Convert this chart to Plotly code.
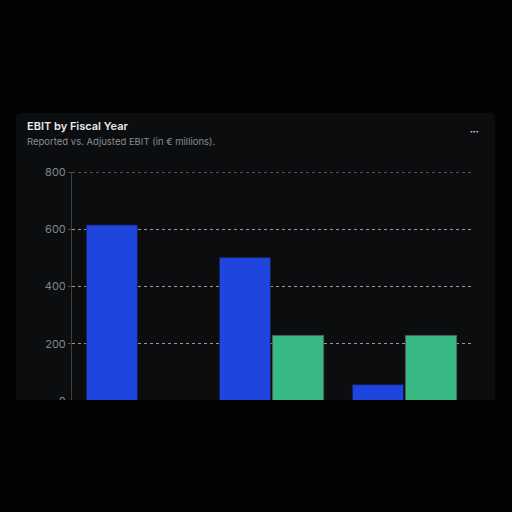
import plotly.graph_objects as go

# ---- data ----
fiscal_years = ["FY2022", "FY2023", "FY2024"]
reported_ebit = [615, 501, 57]
adjusted_ebit = [None, 229, 229]
y_ticks = [0, 200, 400, 600, 800]
y_max = 800

# ---- layout geometry (pixels) ----
W = H = 512
L, R, T, B = 72, 471, 172, 401


def px_x(p):
    return (p - L) / (R - L)


def px_y(p):
    return (B - p) / (B - T)


GRID = "rgba(185,190,195,0.8)"

fig = go.Figure()
fig.add_trace(go.Bar(
    x=fiscal_years, y=reported_ebit, name="Reported EBIT",
    marker=dict(color="#1f45df", line=dict(color="rgba(20,30,80,0.8)", width=1)),
))
fig.add_trace(go.Bar(
    x=fiscal_years, y=adjusted_ebit, name="Adjusted EBIT",
    marker=dict(color="#38b983", line=dict(color="rgba(90,95,100,0.9)", width=1)),
))

# card with rounded corners
x0, x1, y0, y1, r = 16, 495, 113, 420, 5
path = (
    f"M {px_x(x0 + r)} {px_y(y0)} L {px_x(x1 - r)} {px_y(y0)} "
    f"Q {px_x(x1)} {px_y(y0)} {px_x(x1)} {px_y(y0 + r)} "
    f"L {px_x(x1)} {px_y(y1)} L {px_x(x0)} {px_y(y1)} "
    f"L {px_x(x0)} {px_y(y0 + r)} Q {px_x(x0)} {px_y(y0)} {px_x(x0 + r)} {px_y(y0)} Z"
)
shapes = [
    dict(type="path", xref="paper", yref="paper", path=path,
         fillcolor="#0b0d0f", line=dict(width=0), layer="below"),
    # top gridline (plotly drops gridlines at the range edge)
    dict(type="line", xref="paper", yref="y", x0=0, x1=1, y0=y_max, y1=y_max,
         line=dict(color=GRID, width=1, dash="dot"), layer="below"),
    dict(type="rect", xref="paper", yref="paper",
         x0=px_x(0), x1=px_x(512), y0=px_y(400), y1=px_y(512),
         fillcolor="#020304", line=dict(width=0), layer="above"),
]

annotations = [
    dict(text="EBIT by Fiscal Year", xref="paper", yref="paper",
         x=px_x(25), y=px_y(126.5), xanchor="left", yanchor="middle",
         showarrow=False, font=dict(size=11, weight=600, color="#e8eaec")),
    dict(text="Reported vs. Adjusted EBIT (in € millions).", xref="paper", yref="paper",
         x=px_x(25), y=px_y(141), xanchor="left", yanchor="middle",
         showarrow=False, font=dict(size=9.5, color="#878d93")),
    dict(text="•••", xref="paper", yref="paper",
         x=px_x(474), y=px_y(131), xanchor="center", yanchor="middle",
         showarrow=False, font=dict(size=5, color="#e8eaec")),
]

fig.update_layout(
    width=W, height=H,
    margin=dict(l=L, r=W - R, t=T, b=H - B, pad=0),
    paper_bgcolor="#020304",
    plot_bgcolor="rgba(0,0,0,0)",
    font=dict(family="Inter", color="#878d93"),
    barmode="group", bargap=0.2, bargroupgap=0.04,
    showlegend=False,
    shapes=shapes,
    annotations=annotations,
    xaxis=dict(showgrid=False, showline=False, showticklabels=False, ticks=""),
    yaxis=dict(
        range=[0, y_max], tickvals=y_ticks, showgrid=True,
        gridcolor=GRID, griddash="dot", gridwidth=1,
        zeroline=False, showline=True, linecolor="#3b4045", linewidth=1,
        ticks="outside", ticklen=3, tickcolor="#4a4f54",
        tickfont=dict(size=11, color="#80868c"),
    ),
)

fig.write_html(
    "out.html",
    config={"displayModeBar": False},
    post_script="document.body.style.margin='0';document.body.style.background='#020304';",
)
